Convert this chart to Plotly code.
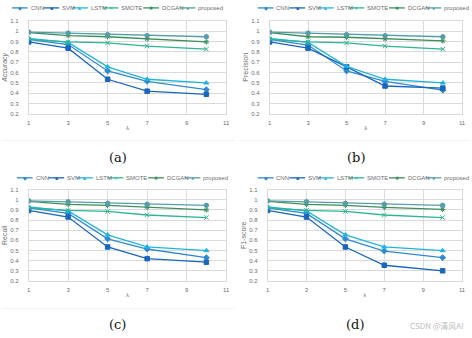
import plotly.graph_objects as go

# Neighbourhood size lambda evaluated for every method
lam = [1, 3, 5, 7, 10]

methods = ["CNN", "SVM", "LSTM", "SMOTE", "DCGAN", "proposed"]

accuracy = {
    "CNN":      [0.92, 0.87, 0.615, 0.515, 0.435],
    "SVM":      [0.895, 0.835, 0.535, 0.42, 0.39],
    "LSTM":     [0.93, 0.89, 0.655, 0.535, 0.50],
    "SMOTE":    [0.92, 0.895, 0.885, 0.855, 0.825],
    "DCGAN":    [0.985, 0.955, 0.945, 0.925, 0.895],
    "proposed": [0.99, 0.98, 0.965, 0.955, 0.945],
}
precision = {
    "CNN":      [0.92, 0.865, 0.615, 0.515, 0.43],
    "SVM":      [0.895, 0.835, 0.655, 0.47, 0.45],
    "LSTM":     [0.93, 0.89, 0.66, 0.535, 0.50],
    "SMOTE":    [0.92, 0.895, 0.885, 0.855, 0.825],
    "DCGAN":    [0.985, 0.945, 0.94, 0.925, 0.905],
    "proposed": [0.99, 0.98, 0.965, 0.955, 0.945],
}
recall = {
    "CNN":      [0.92, 0.865, 0.615, 0.515, 0.43],
    "SVM":      [0.895, 0.83, 0.535, 0.42, 0.385],
    "LSTM":     [0.93, 0.89, 0.655, 0.535, 0.50],
    "SMOTE":    [0.92, 0.895, 0.885, 0.85, 0.825],
    "DCGAN":    [0.985, 0.955, 0.945, 0.925, 0.90],
    "proposed": [0.99, 0.98, 0.965, 0.955, 0.945],
}
f1score = {
    "CNN":      [0.92, 0.865, 0.615, 0.495, 0.43],
    "SVM":      [0.895, 0.83, 0.535, 0.355, 0.30],
    "LSTM":     [0.93, 0.89, 0.655, 0.535, 0.50],
    "SMOTE":    [0.92, 0.895, 0.885, 0.85, 0.825],
    "DCGAN":    [0.985, 0.955, 0.945, 0.925, 0.905],
    "proposed": [0.99, 0.98, 0.965, 0.955, 0.945],
}

x_ticks = [1, 3, 5, 7, 9, 11]
y_ticks = [0.2, 0.3, 0.4, 0.5, 0.6, 0.7, 0.8, 0.9, 1.0, 1.1]
y_tick_text = ["0.2", "0.3", "0.4", "0.5", "0.6", "0.7", "0.8", "0.9", "1", "1.1"]

colors = {
    "CNN": "#2F8AD3",
    "SVM": "#1A66BE",
    "LSTM": "#22B3DF",
    "SMOTE": "#2DB594",
    "DCGAN": "#3C8F5C",
    "proposed": "#559EA8",
}
symbols = {
    "CNN": "diamond",
    "SVM": "square",
    "LSTM": "triangle-up",
    "SMOTE": "x-thin-open",
    "DCGAN": "asterisk-open",
    "proposed": "circle",
}
glyphs = {"CNN": "◆", "SVM": "■", "LSTM": "▲", "SMOTE": "✕", "DCGAN": "✱", "proposed": "●"}

W, H = 472, 338

def px_x(v):
    return v / W

def px_y(v):
    return 1 - v / H

# panel: (data, y title, x-domain px, y-domain px (top, bottom), legend left px, legend y px, caption)
panels = [
    (accuracy, "<i>Accuracy</i>", (27, 227), (18, 113), 10, 5, "(a)", 157),
    (precision, "Precision", (271, 466), (18, 113), 259, 5, "(b)", 157),
    (recall, "Recall", (27, 227), (190, 283), 15, 178, "(c)", 327),
    (f1score, "F1-score", (269, 466), (190, 283), 259, 178, "(d)", 327),
]

fig = go.Figure()
shapes = []
annotations = []
grid = "#DADADA"
tick_font = dict(family="Liberation Sans, Arial, sans-serif", size=6, color="#6E6E6E")

leg_line_offsets = [0, 32, 61, 92, 133, 170]

for i, (data, ytitle, xd, yd, leg_x, leg_y, cap, cap_y) in enumerate(panels):
    n = "" if i == 0 else str(i + 1)
    for m in methods:
        fig.add_trace(go.Scatter(
            x=lam, y=data[m], mode="lines+markers", name=m,
            xaxis="x" + n, yaxis="y" + n, showlegend=False,
            line=dict(color=colors[m], width=1.3),
            marker=dict(symbol=symbols[m], size=4.5, color=colors[m],
                        line=dict(color=colors[m], width=1)),
        ))
    fig.layout["xaxis" + n] = dict(
        domain=[px_x(xd[0]), px_x(xd[1])], anchor="y" + n,
        range=[1, 11], tickvals=x_ticks, showgrid=True, gridcolor=grid, gridwidth=0.7,
        showline=True, linecolor=grid, linewidth=0.7, mirror=True, zeroline=False,
        tickfont=tick_font, ticks="outside", ticklen=3, tickcolor="rgba(0,0,0,0)",
        title=dict(text="λ", font=dict(family="Liberation Sans, Arial", size=6, color="#6E6E6E"), standoff=0),
    )
    fig.layout["yaxis" + n] = dict(
        domain=[px_y(yd[1]), px_y(yd[0])], anchor="x" + n,
        range=[0.2, 1.1], tickvals=y_ticks, ticktext=y_tick_text,
        showgrid=True, gridcolor=grid, gridwidth=0.7,
        showline=True, linecolor=grid, linewidth=0.7, mirror=True, zeroline=False,
        tickfont=tick_font, ticks="outside", ticklen=8, tickcolor="rgba(0,0,0,0)",
        title=dict(text=ytitle, font=dict(family="Liberation Sans, Arial", size=7, color="#6E6E6E"), standoff=1),
    )

    # hand-drawn legend row above each panel
    for k, m in enumerate(methods):
        x0 = leg_x + leg_line_offsets[k]
        shapes.append(dict(type="line", xref="paper", yref="paper",
                           x0=px_x(x0), x1=px_x(x0 + 16), y0=px_y(leg_y), y1=px_y(leg_y),
                           line=dict(color=colors[m], width=1.3)))
        annotations.append(dict(xref="paper", yref="paper", x=px_x(x0 + 8), y=px_y(leg_y),
                                text=glyphs[m], showarrow=False, xanchor="center", yanchor="middle",
                                font=dict(size=5, color=colors[m])))
        annotations.append(dict(xref="paper", yref="paper", x=px_x(x0 + 17), y=px_y(leg_y),
                                text=m, showarrow=False, xanchor="left", yanchor="middle",
                                font=dict(family="Liberation Sans, Arial", size=6, color="#6E6E6E")))

    # sub-figure caption
    annotations.append(dict(xref="paper", yref="paper", x=px_x((xd[0] + xd[1]) / 2 - 10), y=px_y(cap_y),
                            text=cap, showarrow=False, xanchor="center", yanchor="middle",
                            font=dict(family="DejaVu Serif, Liberation Serif, serif", size=13, color="#111111")))

# faint frame lines under the upper and lower panel images
for (y_sep, x0, x1) in [(140, 0, 236), (140, 240, 472), (311, 0, 236)]:
    shapes.append(dict(type="line", xref="paper", yref="paper", x0=px_x(x0), x1=px_x(x1),
                       y0=px_y(y_sep), y1=px_y(y_sep), line=dict(color="#F2F2F2", width=1)))

annotations.append(dict(xref="paper", yref="paper", x=px_x(470), y=px_y(328),
                        text="CSDN @清风AI", showarrow=False, xanchor="right", yanchor="middle",
                        font=dict(family="Noto Sans CJK SC, Noto Sans", size=8, color="#BDBDBD")))

fig.update_layout(
    width=W, height=H, margin=dict(l=0, r=0, t=0, b=0),
    paper_bgcolor="white", plot_bgcolor="white",
    shapes=shapes, annotations=annotations, showlegend=False,
)

fig.write_html("out.html")
